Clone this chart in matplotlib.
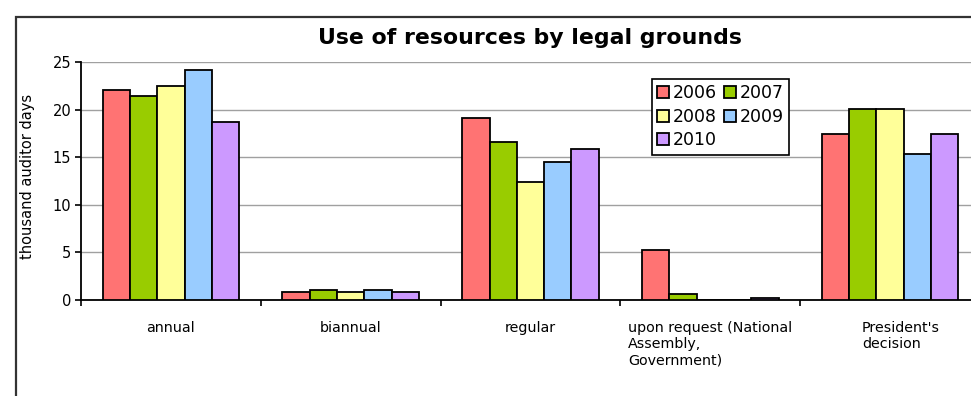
import numpy as np
import matplotlib
matplotlib.use("Agg")
import matplotlib.pyplot as plt
from matplotlib.patches import Rectangle

# --- Data (thousand auditor days) ---
categories = ["annual", "biannual", "regular",
              "upon request (National\nAssembly,\nGovernment)",
              "President's\ndecision"]
years = ["2006", "2007", "2008", "2009", "2010"]
v2006 = [22.1, 0.8, 19.1, 5.3, 17.4]
v2007 = [21.4, 1.0, 16.6, 0.6, 20.1]
v2008 = [22.5, 0.8, 12.4, 0.0, 20.1]
v2009 = [24.2, 1.0, 14.5, 0.0, 15.3]
v2010 = [18.7, 0.8, 15.9, 0.2, 17.4]
series = [v2006, v2007, v2008, v2009, v2010]
colors = ["#FF7373", "#99CC00", "#FFFF99", "#99CCFF", "#CC99FF"]

W, H = 971, 396
fig = plt.figure(figsize=(W / 100, H / 100), dpi=100)
plt.rcParams['font.family'] = ['DejaVu Sans']

# outer chart frame (runs off the right and bottom edge)
fig.patches.append(Rectangle((16 / W, -0.1), 2.0, (H - 17) / H + 0.1,
                             transform=fig.transFigure, fill=False,
                             edgecolor="#333333", linewidth=1.6))

ax = fig.add_axes([81 / W, (H - 300) / H, 899 / W, 238 / H])

x = np.arange(len(categories))
n = len(series)
bw = 0.76 / n
bars = []
for i, (vals, c, yr) in enumerate(zip(series, colors, years)):
    offs = (i - (n - 1) / 2) * bw
    bars.append(ax.bar(x + offs, vals, width=bw, color=c, edgecolor="black",
                       linewidth=1.3, label=yr, zorder=3))

ax.set_xlim(-0.5, len(categories) - 0.5)
ax.set_ylim(0, 25)
ax.set_yticks([0, 5, 10, 15, 20, 25])
ax.yaxis.grid(True, color="#a0a0a0", linewidth=1, zorder=0)
ax.tick_params(axis="y", labelsize=10.5, length=4, width=1.2, pad=3)

# category boundaries as x ticks, labels placed as text
ax.set_xticks(np.arange(len(categories) + 1) - 0.5)
ax.set_xticklabels([])
ax.tick_params(axis="x", length=4, width=1.2, direction="out")
label_shift = [0, 0, 0, 0.0, 0.06]
for xi, lab, dx in zip(x, categories, label_shift):
    ax.text(xi + dx, -2.2, lab, ha="center", va="top",
            multialignment="left", fontsize=10.3, linespacing=1.2)

for s in ["top", "right"]:
    ax.spines[s].set_visible(False)
ax.spines["left"].set_linewidth(1.3)
ax.spines["bottom"].set_linewidth(1.3)

ax.set_ylabel("thousand auditor days", fontsize=10.5)
ax.yaxis.set_label_coords(-0.051, 0.52)

fig.text(530 / W, 1 - 38 / H, "Use of resources by legal grounds",
         ha="center", va="center", fontsize=15.8, fontweight="bold")

# legend filled row by row: 2006 2007 / 2008 2009 / 2010
order = [0, 2, 4, 1, 3]
leg = ax.legend([bars[k] for k in order], [years[k] for k in order],
                ncol=2, loc="upper left",
                bbox_to_anchor=(652 / W, 1 - 79 / H),
                bbox_transform=fig.transFigure, fontsize=12.5,
                handlelength=0.7, handleheight=0.7, handletextpad=0.2,
                columnspacing=0.4, labelspacing=0.32, borderpad=0.3,
                borderaxespad=0, fancybox=False, framealpha=1)
leg.get_frame().set_edgecolor("black")
leg.get_frame().set_linewidth(1.2)

fig.savefig("out.png", dpi=100)
